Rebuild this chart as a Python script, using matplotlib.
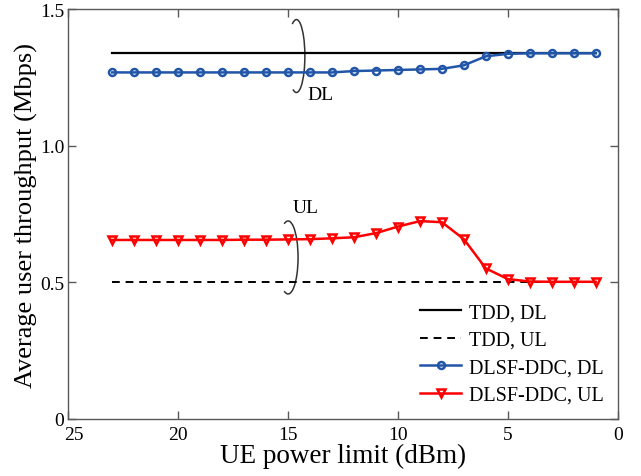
import numpy as np
import matplotlib
matplotlib.use("Agg")
import matplotlib.pyplot as plt
from matplotlib.patches import Arc
from matplotlib.transforms import ScaledTranslation

plt.rcParams.update({
    "font.family": "serif",
    "font.serif": ["Liberation Serif", "DejaVu Serif"],
    "mathtext.fontset": "stix",
    "xtick.direction": "in",
    "ytick.direction": "in",
    "xtick.top": True,
    "ytick.right": True,
    "axes.linewidth": 1.0,
    "axes.edgecolor": "0.35",
})

# UE power limit (dBm)
power = [23, 22, 21, 20, 19, 18, 17, 16, 15, 14, 13, 12,
         11, 10, 9, 8, 7, 6, 5, 4, 3, 2, 1]

tdd_dl = 1.338
tdd_ul = 0.503

dlsf_dl = [1.268, 1.268, 1.268, 1.268, 1.268, 1.268, 1.268, 1.268, 1.268,
           1.268, 1.268, 1.273, 1.275, 1.277, 1.279, 1.281, 1.294, 1.327,
           1.336, 1.338, 1.338, 1.338, 1.338]

dlsf_ul = [0.655, 0.655, 0.655, 0.655, 0.655, 0.655, 0.656, 0.656, 0.657,
           0.658, 0.661, 0.665, 0.680, 0.704, 0.724, 0.720, 0.658, 0.551,
           0.512, 0.503, 0.502, 0.502, 0.502]

fig = plt.figure(figsize=(6.41, 4.77), dpi=100)
ax = fig.add_axes([0.1066, 0.1195, 0.857, 0.8595])

ax.plot(power, [tdd_dl] * len(power), color="black", lw=1.6, label="TDD, DL")
ax.plot(power, [tdd_ul] * len(power), color="black", lw=1.4,
        ls=(0, (4, 3)), label="TDD, UL")
ax.plot(power, dlsf_dl, color="#2155a8", lw=1.8, marker="o", ms=5,
        mfc="none", mec="#2155a8", mew=1.8, label="DLSF-DDC, DL")
ax.plot(power, dlsf_ul, color="#ff0000", lw=1.8, marker="v", ms=6,
        mfc="none", mec="#ff0000", mew=1.8, label="DLSF-DDC, UL")

# ellipse annotations (x axis is reversed, so angles are mirrored)
ax.add_patch(Arc((14.62, 1.328), 0.77, 0.267, theta1=32, theta2=322,
                 color="0.2", lw=1.1))
ax.add_patch(Arc((15.0, 0.591), 0.91, 0.267, theta1=35, theta2=325,
                 color="0.2", lw=1.1))
ax.text(14.14, 1.189, "DL", fontsize=14, ha="left", va="center")
ax.text(14.78, 0.772, "UL", fontsize=14, ha="left", va="center")

ax.set_xlim(25, 0)
ax.set_ylim(0, 1.5)
ax.set_xticks([25, 20, 15, 10, 5, 0])
ax.set_yticks([0, 0.5, 1.0, 1.5])
ax.set_yticklabels(["0", "0.5", "1.0", "1.5"])
ax.tick_params(labelsize=14, length=6, width=1.0, color="0.35", pad=3)
ax.tick_params(axis="x", pad=5)

# nudge the "25" label right so it clears the "0" of the y axis
first = ax.get_xticklabels()[0]
first.set_transform(first.get_transform()
                    + ScaledTranslation(4 / 72, 0, fig.dpi_scale_trans))

ax.set_xlabel("UE power limit (dBm)", fontsize=19.5, labelpad=0)
ax.set_ylabel("Average user throughput (Mbps)", fontsize=19, labelpad=1)

ax.legend(loc="lower right", frameon=False, fontsize=14.5, handlelength=2.0,
          handletextpad=0.4, labelspacing=0.42, borderaxespad=0.3)

fig.savefig("out.png", dpi=100)
